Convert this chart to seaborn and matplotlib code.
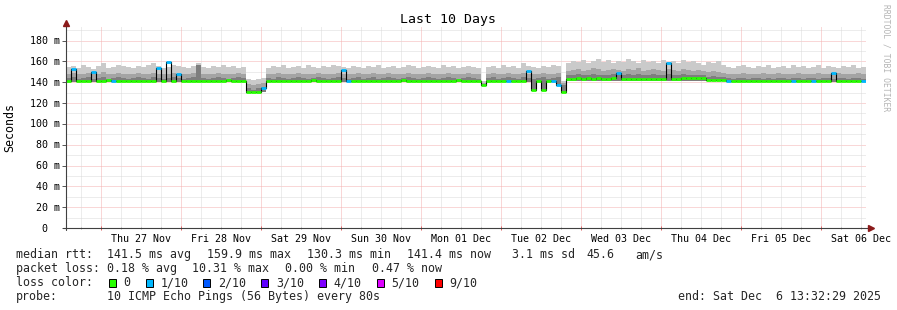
import numpy as np
import pandas as pd
import matplotlib
matplotlib.use("Agg")
import matplotlib.pyplot as plt
import matplotlib.dates as mdates
import matplotlib.transforms as mtransforms
from matplotlib.patches import Rectangle
import seaborn as sns

# ---------------- data ----------------
start = pd.Timestamp("2025-11-26 13:32:29")
end = pd.Timestamp("2025-12-06 13:32:29")
times = pd.date_range(start, periods=160, freq="90min")

median_rtt = [
    141.5, 153.0, 141.5, 141.3, 141.6, 150.0, 141.4, 141.5, 141.7, 141.5, 141.5, 141.3, 141.6, 141.5, 141.4, 141.6, 141.5, 141.3, 154.0, 141.5,
    159.9, 141.6, 148.0, 141.5, 141.2, 141.6, 141.5, 141.4, 141.5, 141.6, 141.3, 141.5, 141.7, 141.4, 141.5, 141.6, 131.0, 130.3, 130.8, 134.5,
    141.5, 141.4, 141.6, 141.5, 141.3, 141.5, 141.6, 141.4, 141.5, 141.7, 141.5, 141.3, 141.5, 141.6, 141.4, 152.0, 141.5, 141.5, 141.3, 141.6,
    141.5, 141.4, 141.5, 141.6, 141.5, 141.3, 141.5, 141.7, 141.4, 141.5, 141.6, 141.5, 141.3, 141.5, 141.6, 141.4, 141.5, 141.5, 141.7, 141.4,
    141.5, 141.6, 141.3, 137.0, 141.5, 141.6, 141.4, 141.5, 141.5, 141.6, 141.3, 141.5, 151.0, 133.0, 141.5, 133.0, 141.6, 141.5, 137.0, 130.5,
    143.2, 143.5, 143.8, 143.4, 143.6, 143.3, 143.7, 143.5, 143.4, 143.6, 149.0, 142.8, 143.4, 142.9, 143.5, 142.8, 143.3, 142.7, 143.4, 142.9,
    158.0, 143.3, 142.8, 144.0, 144.2, 143.9, 144.1, 144.0, 142.3, 142.1, 142.4, 142.2, 141.0, 141.2, 140.9, 141.1, 141.0, 140.8, 141.2, 141.0,
    140.9, 141.1, 141.0, 141.2, 140.8, 141.0, 141.1, 140.9, 141.0, 141.2, 141.0, 140.9, 141.1, 149.0, 141.0, 141.2, 140.9, 141.1, 141.0, 141.0,
]

loss_count = [
    0, 1, 0, 0, 0, 1, 0, 0, 0, 1, 0, 0, 0, 0, 0, 0, 0, 0, 1, 0,
    1, 0, 1, 0, 0, 0, 0, 0, 0, 0, 0, 0, 0, 0, 0, 0, 0, 0, 0, 1,
    0, 0, 0, 0, 0, 0, 0, 0, 0, 0, 0, 0, 0, 0, 0, 1, 1, 0, 0, 0,
    0, 0, 0, 0, 0, 0, 0, 0, 0, 0, 0, 0, 0, 0, 0, 0, 0, 0, 0, 0,
    0, 0, 0, 0, 0, 0, 0, 0, 1, 0, 0, 0, 1, 0, 0, 0, 0, 1, 1, 0,
    0, 0, 0, 0, 0, 0, 0, 0, 0, 0, 1, 0, 0, 0, 0, 0, 0, 0, 0, 0,
    1, 0, 0, 0, 0, 0, 0, 0, 0, 0, 0, 0, 1, 0, 0, 0, 0, 0, 0, 0,
    0, 0, 0, 0, 0, 1, 0, 0, 0, 1, 0, 0, 0, 1, 0, 0, 0, 0, 0, 1,
]

smoke_outer = [
    155, 156, 154, 157, 155, 153, 156, 158, 154, 155, 157, 156, 155, 154, 156, 155, 157, 158, 156, 154,
    155, 157, 156, 155, 154, 156, 158, 155, 154, 156, 155, 157, 155, 156, 154, 155, 143, 142, 143, 144,
    154, 156, 155, 157, 154, 155, 156, 154, 157, 155, 154, 156, 155, 157, 156, 155, 154, 156, 155, 154,
    156, 155, 157, 154, 155, 156, 154, 155, 157, 156, 154, 155, 156, 155, 154, 157, 155, 156, 154, 155,
    156, 155, 154, 141, 155, 156, 154, 157, 155, 156, 154, 158, 156, 155, 154, 156, 155, 157, 156, 141,
    158, 160, 159, 161, 158, 160, 162, 159, 161, 158, 160, 159, 162, 160, 158, 161, 159, 160, 158, 161,
    159, 160, 158, 161, 159, 160, 158, 157, 159, 158, 160, 157, 155, 154, 156, 157, 155, 154, 156, 155,
    157, 154, 155, 156, 154, 157, 155, 156, 154, 155, 157, 154, 156, 155, 154, 156, 155, 157, 154, 155,
]

smoke_mid = [
    148, 149, 147.5, 148, 149, 147.5, 148, 150, 147.5, 148, 149, 148, 147.5, 148, 149, 148, 147.5, 149, 148, 147.5,
    148, 149, 148, 147.5, 148, 149, 157, 148, 147.5, 148, 149, 148, 147.5, 148, 149, 148, 138, 137, 138, 139,
    148, 147.5, 149, 148, 147.5, 148, 149, 148, 147.5, 148, 149, 148, 147.5, 148, 149, 148, 147.5, 148, 149, 147.5,
    148, 149, 147.5, 148, 149, 148, 147.5, 148, 149, 148, 147.5, 148, 149, 148, 147.5, 148, 149, 148, 147.5, 148,
    149, 148, 147.5, 139, 148, 149, 147.5, 148, 149, 148, 147.5, 149, 148, 147.5, 148, 149, 147.5, 148, 149, 139,
    151, 152, 153, 151, 152, 154, 153, 151, 152, 153, 152, 151, 153, 152, 154, 151, 152, 153, 152, 151,
    153, 152, 151, 153, 152, 151, 152, 151, 150, 151, 150, 149, 148, 147.5, 148, 149, 148, 147.5, 148, 149,
    148, 147.5, 149, 148, 147.5, 148, 149, 148, 147.5, 148, 149, 148, 147.5, 148, 149, 148, 147.5, 148, 149, 148,
]

smoke_inner = [
    144, 145, 143.5, 144, 145, 143.5, 144, 145, 143.5, 144, 145, 144, 143.5, 144, 145, 144, 143.5, 145, 144, 143.5,
    144, 145, 144, 143.5, 144, 145, 157, 144, 143.5, 144, 145, 144, 143.5, 144, 145, 144, 134, 133, 134, 135,
    144, 143.5, 145, 144, 143.5, 144, 145, 144, 143.5, 144, 145, 144, 143.5, 144, 145, 144, 143.5, 144, 145, 143.5,
    144, 145, 143.5, 144, 145, 144, 143.5, 144, 145, 144, 143.5, 144, 145, 144, 143.5, 144, 145, 144, 143.5, 144,
    145, 144, 143.5, 138, 144, 145, 143.5, 144, 145, 144, 143.5, 145, 144, 143.5, 144, 145, 143.5, 144, 145, 137,
    146.5, 147, 148, 146.5, 147, 148, 147, 146.5, 147, 148, 147, 146.5, 148, 147, 148, 146.5, 147, 148, 147, 146.5,
    148, 147, 146.5, 148, 147, 146.5, 147, 146.5, 145.5, 146, 145.5, 145, 144, 143.5, 144, 144, 143.5, 144, 144, 143.5,
    144, 143.5, 144, 144, 143.5, 144, 144, 143.5, 144, 144, 143.5, 144, 144, 143.5, 144, 144, 143.5, 144, 144, 143.5,
]

smoke_low = [
    140.5, 140.5, 140.5, 140.5, 140.5, 140.5, 140.5, 140.5, 140.5, 140.5, 140.5, 140.5, 140.5, 140.5, 140.5, 140.5, 140.5, 140.5, 140.5, 140.5,
    140.5, 140.5, 140.5, 140.5, 140.5, 140.5, 140.5, 140.5, 140.5, 140.5, 140.5, 140.5, 140.5, 140.5, 140.5, 140.5, 129.8, 129.6, 129.8, 130.5,
    140.5, 140.5, 140.5, 140.5, 140.5, 140.5, 140.5, 140.5, 140.5, 140.5, 140.5, 140.5, 140.5, 140.5, 140.5, 140.5, 140.5, 140.5, 140.5, 140.5,
    140.5, 140.5, 140.5, 140.5, 140.5, 140.5, 140.5, 140.5, 140.5, 140.5, 140.5, 140.5, 140.5, 140.5, 140.5, 140.5, 140.5, 140.5, 140.5, 140.5,
    140.5, 140.5, 140.5, 136.5, 140.5, 140.5, 140.5, 140.5, 140.5, 140.5, 140.5, 140.5, 140.5, 132.5, 140.5, 132.5, 140.5, 140.5, 136.5, 130.0,
    141.5, 141.5, 141.5, 141.5, 141.5, 141.5, 141.5, 141.5, 141.5, 141.5, 141.5, 141.5, 141.5, 141.5, 141.5, 141.5, 141.5, 141.5, 141.5, 141.5,
    141.5, 141.5, 141.5, 141.5, 141.5, 141.5, 141.5, 141.5, 141.5, 141.5, 141.5, 141.5, 140.2, 140.2, 140.2, 140.2, 140.2, 140.2, 140.2, 140.2,
    140.2, 140.2, 140.2, 140.2, 140.2, 140.2, 140.2, 140.2, 140.2, 140.2, 140.2, 140.2, 140.2, 140.2, 140.2, 140.2, 140.2, 140.2, 140.2, 140.2,
]

y_ticks = [0, 20, 40, 60, 80, 100, 120, 140, 160, 180]
y_tick_labels = ["0", "20 m", "40 m", "60 m", "80 m", "100 m", "120 m", "140 m", "160 m", "180 m"]
day_labels = ["Thu 27 Nov", "Fri 28 Nov", "Sat 29 Nov", "Sun 30 Nov", "Mon 01 Dec",
              "Tue 02 Dec", "Wed 03 Dec", "Thu 04 Dec", "Fri 05 Dec", "Sat 06 Dec"]
loss_labels = ["0", "1/10", "2/10", "3/10", "4/10", "5/10", "9/10"]
loss_colors = ["#26ff00", "#00b8ff", "#0059ff", "#5e00ff", "#7e00ff", "#dd00ff", "#ff0000"]
loss_levels = [0, 1, 2, 3, 4, 5, 9]

title = "Last 10 Days"
stats_median = ["141.5 ms avg", "159.9 ms max", "130.3 ms min", "141.4 ms now", "3.1 ms sd", "45.6", "am/s"]
stats_loss = ["0.18 % avg", "10.31 % max", "0.00 % min", "0.47 % now"]
probe_text = "10 ICMP Echo Pings (56 Bytes) every 80s"
end_text = "end: Sat Dec  6 13:32:29 2025"

# ---------------- style ----------------
sns.set_theme(style="white")
plt.rcParams["font.family"] = ["DejaVu Sans Mono", "DejaVu Sans"]

W, H = 897, 310
fig = plt.figure(figsize=(W / 100, H / 100), dpi=100)
fig.patch.set_facecolor("white")


def fx(px):
    return px / W


def fy(py):
    return 1 - py / H


ax = fig.add_axes([fx(66), fy(228), 800 / W, 202 / H])
ax.set_facecolor("white")

x0 = mdates.date2num(start.to_pydatetime())
x1 = mdates.date2num(end.to_pydatetime())
ax.set_xlim(x0, x1)
ax.set_ylim(0, 194)

# grid
red_grid = "#f4b0b0"
gray_grid = "#dadada"
dot = (0, (1, 1))
for v in range(10, 194, 10):
    ax.axhline(v, color=red_grid if v % 20 == 0 else gray_grid, lw=0.72, ls=dot, zorder=0)
six_h = pd.date_range("2025-11-26 18:00", end, freq="6h")
for t in six_h:
    xv = mdates.date2num(t.to_pydatetime())
    is_day = t.hour == 0
    ax.axvline(xv, color=red_grid if is_day else gray_grid, lw=0.72, ls=dot, zorder=0)

# smoke
xs = mdates.date2num(times.to_pydatetime())
step_days = 1.5 / 24
xe = np.append(xs, xs[-1] + step_days)


def ext(a):
    a = np.asarray(a, dtype=float)
    return np.append(a, a[-1])


ax.fill_between(xe, ext(smoke_low), ext(smoke_outer), step="post", color="#cacaca", lw=0, zorder=1)
ax.fill_between(xe, ext(smoke_low), ext(smoke_mid), step="post", color="#a4a4a4", lw=0, zorder=2)
ax.fill_between(xe, ext(smoke_low), ext(smoke_inner), step="post", color="#7e7e7e", lw=0, zorder=3)

# median black step line (seaborn)
df = pd.DataFrame({"t": xe, "median": ext(median_rtt)})
sns.lineplot(data=df, x="t", y="median", drawstyle="steps-post", color="black",
             lw=0.8, ax=ax, zorder=4, estimator=None, sort=False)

# median coloured by loss
cmap = dict(zip(loss_levels, loss_colors))
seg_colors = [cmap[c] for c in loss_count]
ax.hlines(median_rtt, xs, xs + step_days, colors=seg_colors, lw=2.0, zorder=5)

ax.set_xlabel("")
ax.set_ylabel("")
for s in ax.spines.values():
    s.set_visible(False)

# ticks
ax.set_yticks(y_ticks)
ax.set_yticklabels([])
ax.tick_params(axis="y", which="major", length=3, width=0.7, color="#555555", direction="out", left=True, pad=0)
day_ticks = pd.date_range("2025-11-27", "2025-12-06", freq="D")
ax.set_xticks(mdates.date2num(day_ticks.to_pydatetime()))
ax.set_xticks(mdates.date2num(six_h.to_pydatetime()), minor=True)
ax.set_xticklabels([])
ax.tick_params(axis="x", which="major", length=3, width=0.7, color="#e06060", direction="inout", bottom=True)
ax.tick_params(axis="x", which="minor", length=2, width=0.7, color="#aaaaaa", direction="inout", bottom=True)
ax.grid(False)

# axis lines with arrows
axis_col = "#404040"
ax.plot([-3 / 800, 1 + 5 / 800], [0, 0], transform=ax.transAxes, clip_on=False, color=axis_col, lw=0.8, zorder=6)
ax.plot([0, 0], [-2 / 202, 1 + 3 / 202], transform=ax.transAxes, clip_on=False, color=axis_col, lw=0.8, zorder=6)
ax.plot([1 + 5 / 800], [0], marker=">", ms=4, color="#8b1a1a", transform=ax.transAxes, clip_on=False, zorder=7)
ax.plot([0], [1 + 3.5 / 202], marker="^", ms=4, color="#8b1a1a", transform=ax.transAxes, clip_on=False, zorder=7)

# y tick labels
ytrans = mtransforms.blended_transform_factory(fig.transFigure, ax.transData)
yshift = mtransforms.ScaledTranslation(0, -3.6 / 100, fig.dpi_scale_trans)
for v, lab in zip(y_ticks, y_tick_labels):
    xr = fx(59.5) if lab.endswith("m") else fx(47.5)
    ax.text(xr, v, lab, transform=ytrans + yshift, ha="right", va="baseline",
            fontsize=7.2, color="black")

# x day labels at noon
xtrans = mtransforms.blended_transform_factory(ax.transData, fig.transFigure)
noon = pd.date_range("2025-11-27 12:00", periods=len(day_labels), freq="D")
for t, lab in zip(noon, day_labels):
    ax.text(mdates.date2num(t.to_pydatetime()), fy(241.7), lab, transform=xtrans,
            ha="center", va="baseline", fontsize=7.2, color="black")

# title, axis label, watermark
fig.text(fx(448), fy(23.5), title, ha="center", va="baseline", fontsize=9.5, color="black")
fig.text(fx(10), fy(127.5), "Seconds", rotation=90, ha="center", va="center", fontsize=8.4, color="black")
fig.text(fx(886), fy(4), "RRDTOOL / TOBI OETIKER", rotation=270, ha="center", va="top",
         fontsize=5.8, color="#b4b4b4")

# legend rows
fs = 8.4
fig.text(fx(16), fy(258.3), "median rtt:", fontsize=fs, va="baseline")
for xp, s in zip([107.3, 207.3, 306.7, 407, 511.7, 586, 635], stats_median):
    fig.text(fx(xp), fy(258.3), s, fontsize=fs, va="baseline")

fig.text(fx(16), fy(272), "packet loss:", fontsize=fs, va="baseline")
for xp, s in zip([107.3, 192, 285, 372], stats_loss):
    fig.text(fx(xp), fy(272), s, fontsize=fs, va="baseline")

fig.text(fx(16), fy(286), "loss color:", fontsize=fs, va="baseline")
box_x = [108.7, 145.7, 203.3, 261.3, 318.7, 376.7, 435.3]
lab_x = [123.3, 160.3, 218.3, 276.0, 333.7, 391.7, 449.7]
for bx, lx, lab, col in zip(box_x, lab_x, loss_labels, loss_colors):
    fig.patches.append(Rectangle((fx(bx), fy(286.5)), 7 / W, 8 / H, transform=fig.transFigure,
                                 facecolor=col, edgecolor="black", lw=0.7, figure=fig))
    fig.text(fx(lx), fy(286), lab, fontsize=fs, va="baseline")

fig.text(fx(16), fy(300), "probe:", fontsize=fs, va="baseline")
fig.text(fx(107.3), fy(300), probe_text, fontsize=fs, va="baseline")
fig.text(fx(678), fy(300), end_text, fontsize=fs, va="baseline")

fig.savefig("out.png", dpi=100, facecolor="white")
